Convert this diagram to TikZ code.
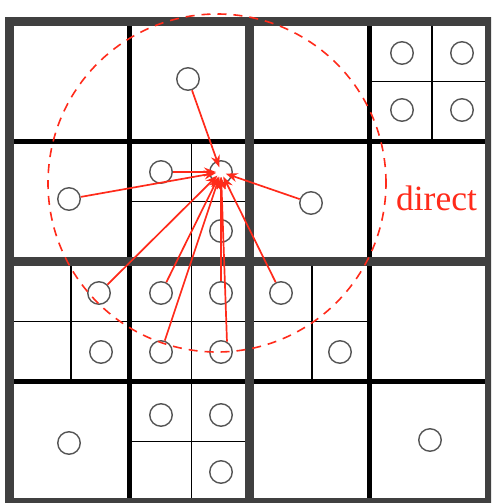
\documentclass[tikz,border=0pt]{standalone}
\usepackage{fontspec}
\setmainfont{Liberation Serif}
\usepackage{xcolor}
\definecolor{gridFrame}{HTML}{404040}
\definecolor{vizDirect}{HTML}{FF2A1A}
\definecolor{vizParticle}{HTML}{555555}
\usetikzlibrary{arrows.meta}

\begin{document}
\begin{tikzpicture}[x=1pt, y=-1pt,
  particle/.style={circle, draw=vizParticle, line width=1.4pt, fill=white, minimum size=22.5pt, inner sep=0pt},
  level1/.style={draw=gridFrame, line width=9pt},
  level2/.style={draw=black, line width=5.5pt},
  level3/.style={draw=black, line width=1.6pt},
  interact/.style={draw=vizDirect, line width=1.7pt, -{Stealth[length=12pt, width=9pt]}, shorten >=5pt}]
  \clip (0,0) rectangle (491,503);
  % finest cells
  \draw[level3] (432,21.5) -- (432,141.5);
  \draw[level3] (369.5,81.5) -- (489.5,81.5);
  \draw[level3] (191.5,141.5) -- (191.5,261.5);
  \draw[level3] (129.5,201.5) -- (249.5,201.5);
  \draw[level3] (71,261.5) -- (71,381.5);
  \draw[level3] (191.5,261.5) -- (191.5,381.5);
  \draw[level3] (312,261.5) -- (312,381.5);
  \draw[level3] (9.5,321.5) -- (369.5,321.5);
  \draw[level3] (191.5,381.5) -- (191.5,501.5);
  \draw[level3] (129.5,441.5) -- (249.5,441.5);
  % level 2
  \draw[level2] (129.5,21.5) -- (129.5,501.5);
  \draw[level2] (369.5,21.5) -- (369.5,501.5);
  \draw[level2] (9.5,141.5) -- (489.5,141.5);
  \draw[level2] (9.5,381.5) -- (489.5,381.5);
  % level 1
  \draw[level1] (249.5,21.5) -- (249.5,501.5);
  \draw[level1] (9.5,261.5) -- (489.5,261.5);
  \draw[level1] (9.3,21.5) rectangle (489.5,502);

  % particles
  \node[particle] (c10) at (188,79) {};
  \node[particle] (c30a) at (402,53) {};
  \node[particle] (c30b) at (462,53) {};
  \node[particle] (c30c) at (402,110) {};
  \node[particle] (c30d) at (462,110) {};
  \node[particle] (c01) at (69,199) {};
  \node[particle] (c11a) at (161,172) {};
  \node[particle] (tgt) at (221,172) {};
  \node[particle] (c11d) at (221,231) {};
  \node[particle] (c21) at (311,203) {};
  \node[particle] (c02b) at (99,293) {};
  \node[particle] (c02d) at (101,352) {};
  \node[particle] (c12a) at (161,293) {};
  \node[particle] (c12b) at (221,293) {};
  \node[particle] (c12c) at (161,352) {};
  \node[particle] (c12d) at (221,352) {};
  \node[particle] (c22a) at (281,293) {};
  \node[particle] (c22d) at (340,352) {};
  \node[particle] (c03) at (69,443) {};
  \node[particle] (c13a) at (161,415) {};
  \node[particle] (c13b) at (221,415) {};
  \node[particle] (c13d) at (221,472) {};
  \node[particle] (c33) at (430,440) {};

  % near field
  \draw[vizDirect, line width=1.6pt, dash pattern=on 9pt off 7pt] (217,183) circle[radius=169pt];
  \draw[interact] (c10) -- (tgt.center);
  \draw[interact] (c11a) -- (tgt.center);
  \draw[interact] (c01) -- (tgt.center);
  \draw[interact] (c21) -- (tgt.center);
  \draw[interact] (c11d) -- (tgt.center);
  \draw[interact] (c02b) -- (tgt.center);
  \draw[interact] (c12a) -- (tgt.center);
  \draw[interact] (c12b) -- (tgt.center);
  \draw[interact] (c12c) -- (tgt.center);
  \draw[interact] (c12d.60) -- (tgt.center);
  \draw[interact] (c22a) -- (tgt.center);
  \node[text=vizDirect, anchor=base, font=\fontsize{35.5}{40}\selectfont] (lblDirect) at (436.5,210) {direct};
\end{tikzpicture}
\end{document}
